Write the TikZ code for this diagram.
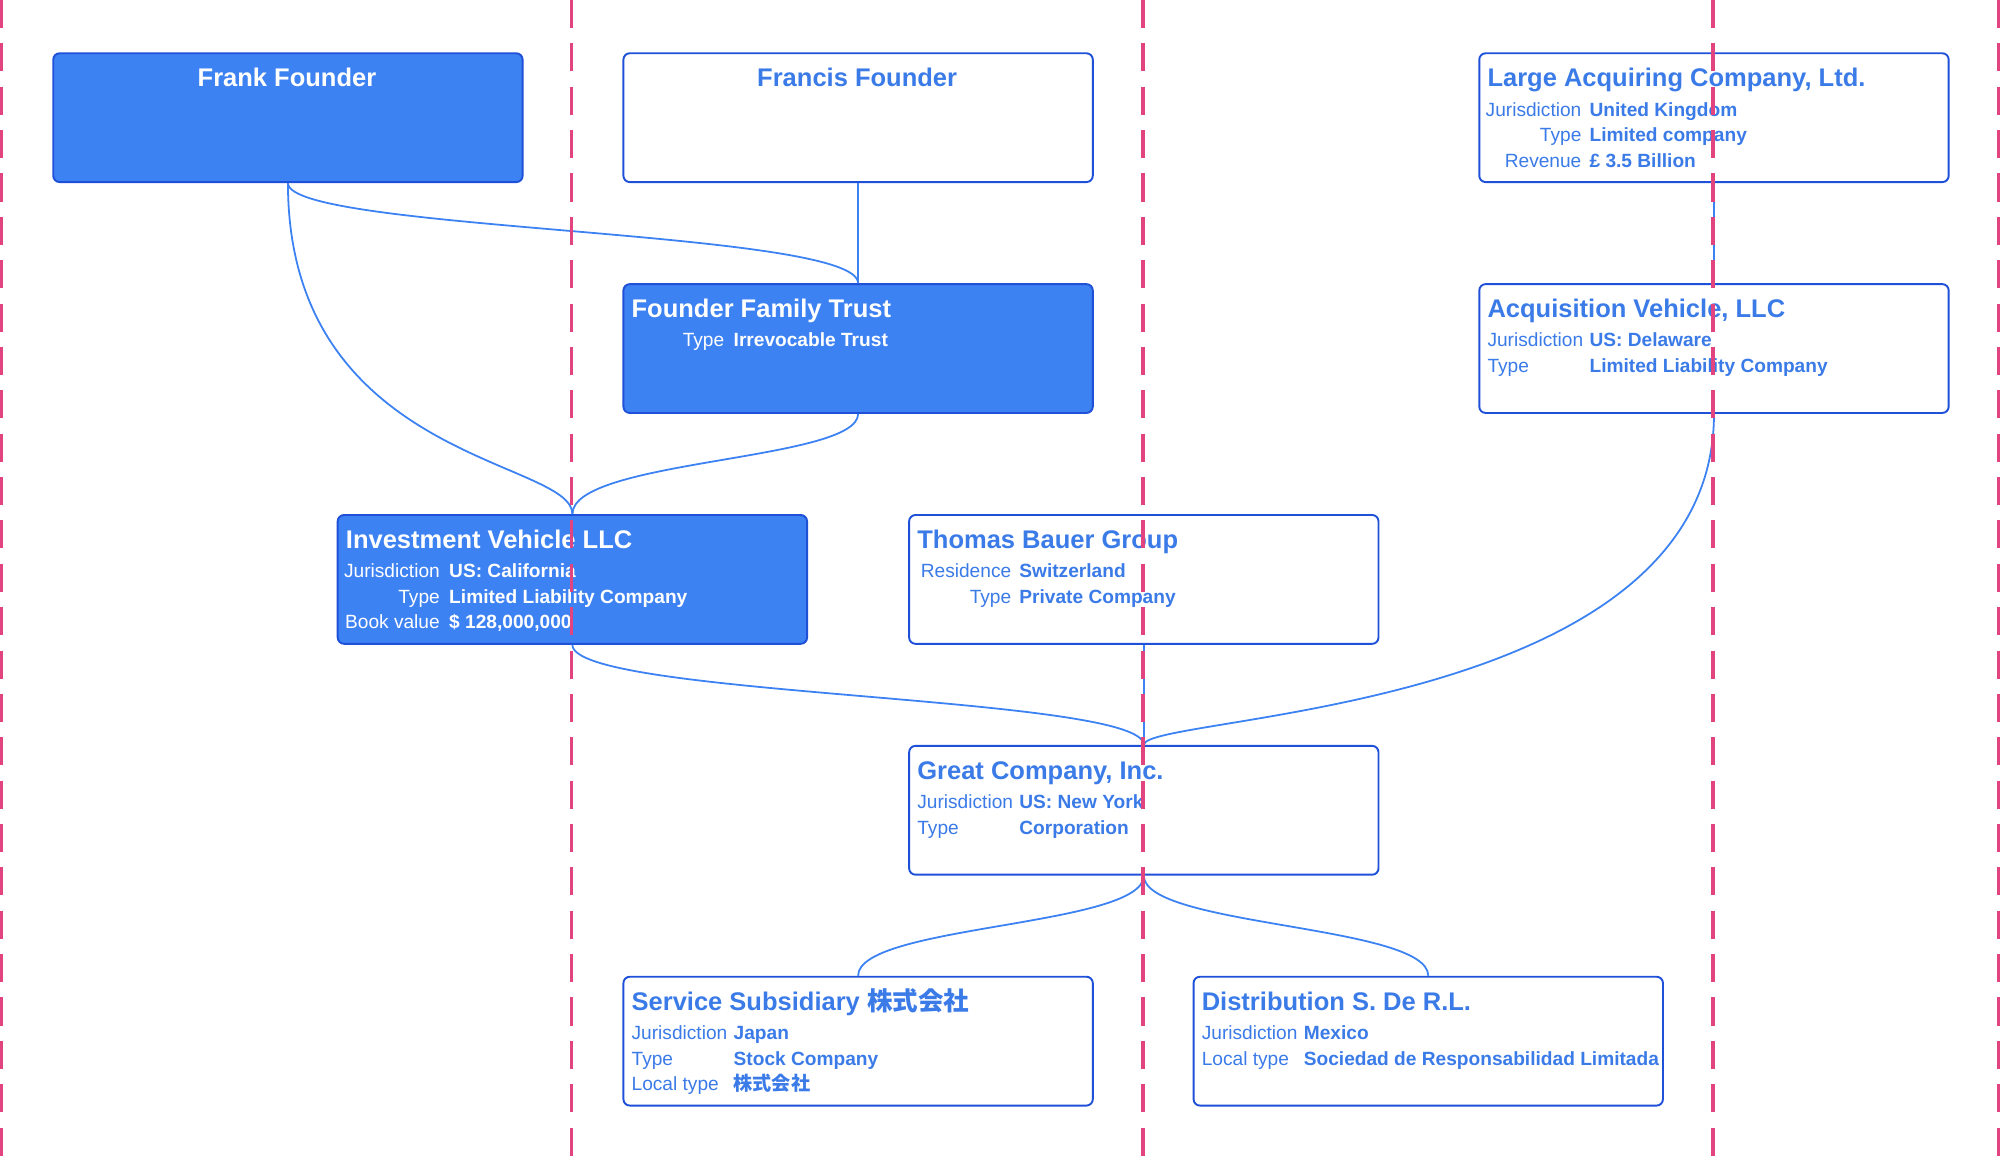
\documentclass[tikz,border=0pt]{standalone}
\usepackage{fontspec}
\setmainfont{Liberation Sans}
\newfontfamily\cjk{Noto Sans CJK JP}
\usetikzlibrary{calc}
\definecolor{bfill}{HTML}{3D82F2}
\definecolor{bline}{HTML}{1E50D8}
\definecolor{btext}{HTML}{3B7BE8}
\definecolor{pinkd}{HTML}{E2447F}
\tikzset{x=1pt,y=-1pt,
 boxw/.style={draw=bline,line width=1.5pt,rounded corners=5pt,fill=white,minimum width=368pt,minimum height=101pt,anchor=north west,inner sep=0pt},
 boxf/.style={boxw,fill=bfill},
 ttl/.style={anchor=base west,font=\fontsize{20}{24}\selectfont\bfseries,inner sep=0pt},
 lbl/.style={anchor=base west,font=\fontsize{15}{18}\selectfont,inner sep=0pt},
 lblr/.style={anchor=base east,font=\fontsize{15}{18}\selectfont,inner sep=0pt},
 val/.style={anchor=base west,font=\fontsize{15}{18}\selectfont\bfseries,inner sep=0pt},
 conn/.style={draw=bfill,line width=1.4pt},
 guide/.style={draw=pinkd,line width=2.6pt,dash pattern=on 22pt off 12pt}}
\begin{document}
\begin{tikzpicture}
\useasboundingbox (0,0) rectangle (1568,906);
% boxes
\node[boxf] (frank) at (41,41) {};
\node[boxw] (francis) at (488,41) {};
\node[boxw] (large) at (1159,41) {};
\node[boxf] (trust) at (488,222) {};
\node[boxw] (acq) at (1159,222) {};
\node[boxf] (inv) at (264,403) {};
\node[boxw] (thomas) at (712,403) {};
\node[boxw] (great) at (712,584) {};
\node[boxw] (serv) at (488,765) {};
\node[boxw] (dist) at (935,765) {};
% connectors
\draw[conn] (frank.south) .. controls ($(frank.south)+(0,38)$) and ($(trust.north)+(0,-42)$) .. (trust.north);
\draw[conn] (frank.south) .. controls ($(frank.south)+(0,218)$) and ($(inv.north)+(0,-43)$) .. (inv.north);
\draw[conn] (francis.south) -- (trust.north);
\draw[conn] (trust.south) .. controls ($(trust.south)+(0,37)$) and ($(inv.north)+(0,-43)$) .. (inv.north);
\draw[conn] (large.south) -- (acq.north);
\draw[conn] (inv.south) .. controls ($(inv.south)+(0,41)$) and ($(great.north)+(0,-39)$) .. (great.north);
\draw[conn] (thomas.south) -- (great.north);
\draw[conn] (acq.south) .. controls ($(acq.south)+(0,237)$) and ($(great.north)+(0,-24)$) .. (great.north);
\draw[conn] (great.south) .. controls ($(great.south)+(0,40)$) and ($(serv.north)+(0,-40)$) .. (serv.north);
\draw[conn] (great.south) .. controls ($(great.south)+(0,40)$) and ($(dist.north)+(0,-40)$) .. (dist.north);
% texts
\node[ttl,white,anchor=base] (t1) at (225,68) {Frank Founder};
\node[ttl,btext,anchor=base] (t2) at (672,68) {Francis Founder};
\begin{scope}[btext]
\node[ttl] (t3) at (1166,68) {Large Acquiring Company, Ltd.};
\node[lblr] (l31) at (1240,91) {Jurisdiction}; \node[val] (v31) at (1246,91) {United Kingdom};
\node[lblr] (l32) at (1240,111) {Type}; \node[val] (v32) at (1246,111) {Limited company};
\node[lblr] (l33) at (1240,131) {Revenue}; \node[val] (v33) at (1246,131) {£ 3.5 Billion};
\node[ttl] (t4) at (1166,249) {Acquisition Vehicle, LLC};
\node[lbl] (l41) at (1166,272) {Jurisdiction}; \node[val] (v41) at (1246,272) {US: Delaware};
\node[lbl] (l42) at (1166,292) {Type}; \node[val] (v42) at (1246,292) {Limited Liability Company};
\node[ttl] (t5) at (719,430) {Thomas Bauer Group};
\node[lblr] (l51) at (793,453) {Residence}; \node[val] (v51) at (799,453) {Switzerland};
\node[lblr] (l52) at (793,473) {Type}; \node[val] (v52) at (799,473) {Private Company};
\node[ttl] (t6) at (719,611) {Great Company, Inc.};
\node[lbl] (l61) at (719,634) {Jurisdiction}; \node[val] (v61) at (799,634) {US: New York};
\node[lbl] (l62) at (719,654) {Type}; \node[val] (v62) at (799,654) {Corporation};
\node[ttl] (t7) at (495,792) {Service Subsidiary {\cjk 株式会社}};
\node[lbl] (l71) at (495,815) {Jurisdiction}; \node[val] (v71) at (575,815) {Japan};
\node[lbl] (l72) at (495,835) {Type}; \node[val] (v72) at (575,835) {Stock Company};
\node[lbl] (l73) at (495,855) {Local type}; \node[val] (v73) at (575,855) {\cjk 株式会社};
\node[ttl] (t8) at (942,792) {Distribution S. De R.L.};
\node[lbl] (l81) at (942,815) {Jurisdiction}; \node[val] (v81) at (1022,815) {Mexico};
\node[lbl] (l82) at (942,835) {Local type}; \node[val] (v82) at (1022,835) {Sociedad de Responsabilidad Limitada};
\end{scope}
\begin{scope}[white]
\node[ttl] (t9) at (495,249) {Founder Family Trust};
\node[lblr] (l91) at (568,272) {Type}; \node[val] (v91) at (575,272) {Irrevocable Trust};
\node[ttl] (t10) at (271,430) {Investment Vehicle LLC};
\node[lblr] (l101) at (345,453) {Jurisdiction}; \node[val] (v101) at (352,453) {US: California};
\node[lblr] (l102) at (345,473) {Type}; \node[val] (v102) at (352,473) {Limited Liability Company};
\node[lblr] (l103) at (345,493) {Book value}; \node[val] (v103) at (352,493) {\$ 128,000,000};
\end{scope}
% guides
\foreach \gx in {1,448,896,1343,1567}{\draw[guide] (\gx,0) -- (\gx,906);}
\end{tikzpicture}
\end{document}
